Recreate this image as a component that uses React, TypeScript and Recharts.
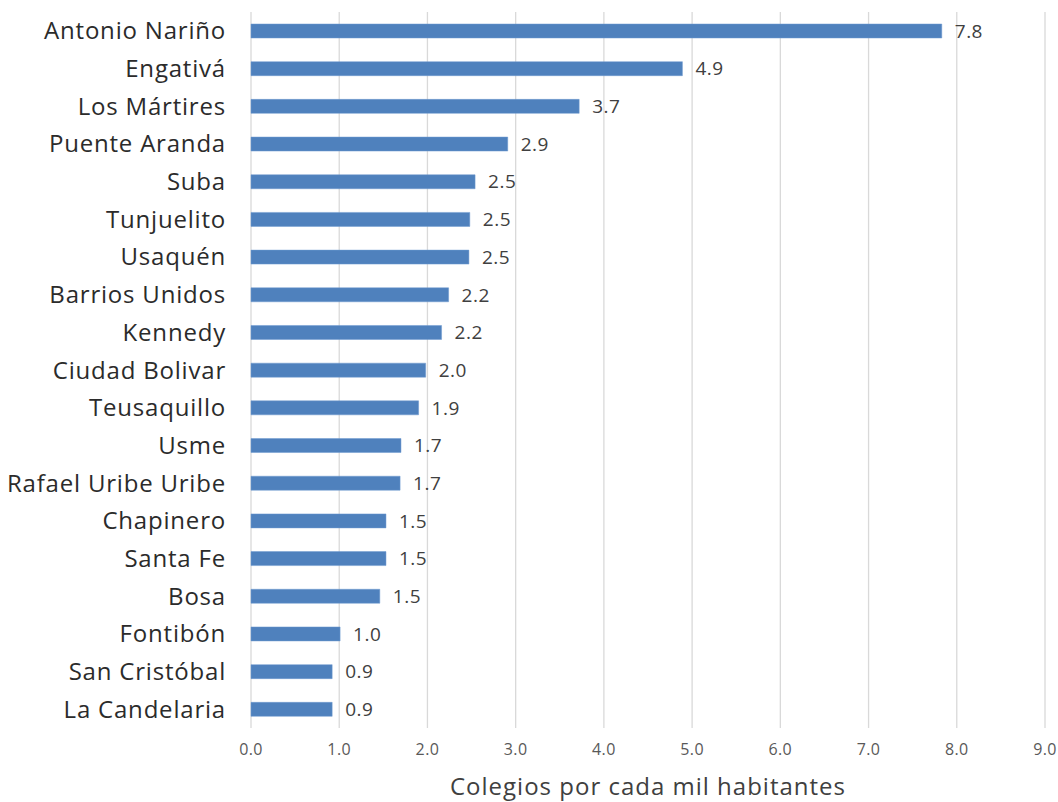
import React from 'react';
import { BarChart, Bar, XAxis, YAxis, CartesianGrid, LabelList } from 'recharts';

const categories = [
  'Antonio Nariño', 'Engativá', 'Los Mártires', 'Puente Aranda', 'Suba', 'Tunjuelito',
  'Usaquén', 'Barrios Unidos', 'Kennedy', 'Ciudad Bolivar', 'Teusaquillo', 'Usme',
  'Rafael Uribe Uribe', 'Chapinero', 'Santa Fe', 'Bosa', 'Fontibón', 'San Cristóbal', 'La Candelaria',
];
const values = [7.83, 4.89, 3.72, 2.91, 2.54, 2.48, 2.47, 2.24, 2.16, 1.98, 1.9, 1.7, 1.69, 1.53, 1.53, 1.46, 1.01, 0.92, 0.92];
const xTicks = [0, 1, 2, 3, 4, 5, 6, 7, 8, 9];
const axisTitle = 'Colegios por cada mil habitantes';

const data = categories.map((name, i) => ({ name, value: values[i] }));

const FONT = '"Open Sans", sans-serif';

export default function App() {
  return (
    <div style={{ position: 'absolute', left: 0, top: 0, width: 1058, height: 802, background: '#fff' }}>
      <BarChart
        width={1058}
        height={802}
        data={data}
        layout="vertical"
        margin={{ top: 12, right: 13, bottom: 0, left: 0 }}
        barCategoryGap={0}
      >
        <CartesianGrid horizontal={false} stroke="#d9d9d9" strokeWidth={1.3} />
        <XAxis
          type="number"
          domain={[0, 9]}
          ticks={xTicks}
          interval={0}
          tickFormatter={(v: number) => v.toFixed(1)}
          axisLine={false}
          tickLine={false}
          tickSize={0}
          tickMargin={16}
          height={74}
          tick={{ fontSize: 16, fill: '#595959', fontFamily: FONT, letterSpacing: 0.4 }}
          label={{ value: axisTitle, position: 'insideBottom', offset: 7, fontSize: 24, fill: '#404040', fontFamily: FONT, letterSpacing: 1 }}
        />
        <YAxis
          type="category"
          dataKey="name"
          width={251}
          axisLine={false}
          tickLine={false}
          tickSize={0}
          tickMargin={25}
          interval={0}
          tick={{ fontSize: 24, fill: '#2b2b2b', fontFamily: FONT, letterSpacing: 0.8 }}
        />
        <Bar dataKey="value" fill="#4F81BD" stroke="#6f9ad0" strokeWidth={0.5} barSize={14} isAnimationActive={false}>
          <LabelList
            dataKey="value"
            position="right"
            offset={13}
            formatter={(v: number) => v.toFixed(1)}
            style={{ fontSize: 19, fill: '#404040', fontFamily: FONT, letterSpacing: 0.5 }}
          />
        </Bar>
      </BarChart>
    </div>
  );
}
